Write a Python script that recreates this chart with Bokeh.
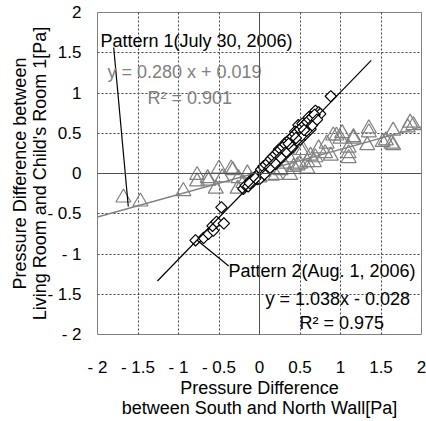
import math
from bokeh.plotting import figure
from bokeh.models import Range1d, FixedTicker, Span
from bokeh.core.properties import value
from bokeh.embed import file_html
from bokeh.resources import INLINE

# ---- data ----
ticks = [-2, -1.5, -1, -0.5, 0, 0.5, 1, 1.5, 2]
tick_labels = ["- 2", "- 1.5", "- 1", "- 0.5", "0", "0.5", "1", "1.5", "2"]
x_title = ["Pressure Difference", "between South and North Wall[Pa]"]
y_title = ["Pressure Difference between", "Living Room and Child's Room 1[Pa]"]

# Pattern 1 (July 30, 2006) - triangles
p1_x = [-1.68, -1.47, -0.94, -0.77, -0.77, -0.63, -0.54, -0.64, -0.50, -0.46,
        -0.35, -0.33, -0.26, -0.27, -0.15, -0.20, -0.10, 0.00, 0.05, 0.10,
        0.15, 0.20, 0.26, 0.30, 0.36, 0.38, 0.42, 0.47, 0.51, 0.50,
        0.54, 0.59, 0.59, 0.63, 0.67, 0.69, 0.73, 0.81, 0.83, 0.88,
        0.91, 0.95, 1.00, 1.02, 1.10, 1.10, 1.10, 1.16, 1.16, 1.33,
        1.35, 1.35, 1.52, 1.56, 1.63, 1.65, 1.65, 1.83, 1.86, 1.90]
p1_y = [-0.30, -0.35, -0.22, -0.02, -0.10, -0.09, -0.19, -0.06, 0.06, -0.05,
        0.06, 0.04, -0.06, -0.19, 0.00, -0.12, -0.08, -0.05, 0.02, 0.05,
        -0.03, -0.02, 0.04, 0.12, 0.20, -0.02, 0.08, 0.10, 0.29, 0.12,
        0.29, 0.06, 0.14, 0.22, 0.14, 0.20, 0.31, 0.25, 0.37, 0.22,
        0.47, 0.47, 0.43, 0.50, 0.32, 0.19, 0.25, 0.43, 0.45, 0.35,
        0.51, 0.56, 0.39, 0.41, 0.37, 0.53, 0.35, 0.57, 0.63, 0.60]

# Pattern 2 (Aug. 1, 2006) - diamonds
p2_x = [-0.79, -0.69, -0.63, -0.57, -0.58, -0.53, -0.44, -0.47, -0.20, -0.17,
        -0.14, -0.11, -0.08, -0.06, -0.03, -0.01, 0.01, 0.03, 0.04, 0.06,
        0.07, 0.09, 0.10, 0.12, 0.13, 0.15, 0.16, 0.18, 0.19, 0.21,
        0.22, 0.24, 0.25, 0.27, 0.28, 0.30, 0.31, 0.33, 0.34, 0.36,
        0.37, 0.39, 0.40, 0.42, 0.43, 0.45, 0.46, 0.48, 0.49, 0.51,
        0.52, 0.54, 0.55, 0.57, 0.58, 0.60, 0.62, 0.64, 0.66, 0.68,
        0.69, 0.71, 0.73, 0.75, 0.88, 0.12, 0.20, 0.28, 0.35, 0.41,
        0.50, 0.56, 0.63, 0.05, 0.16, 0.24, 0.32, 0.44, 0.53, 0.61,
        0.02, 0.05, 0.08, 0.11, 0.14, 0.17, 0.20, 0.23, 0.26, 0.29,
        0.32, 0.35, 0.38, 0.41, 0.44, 0.47, 0.50, 0.53, 0.56, 0.59,
        0.62, 0.65, 0.68, 0.00, 0.06, 0.13, 0.19, 0.26, 0.33, 0.39,
        0.46, 0.52, 0.58, 0.65, 0.71, -0.12, -0.05, 0.36, 0.45, 0.55]
p2_y = [-0.83, -0.80, -0.75, -0.71, -0.65, -0.60, -0.62, -0.42, -0.19, -0.15,
        -0.16, -0.09, -0.10, -0.05, -0.07, 0.00, -0.04, 0.04, 0.00, 0.07,
        0.03, 0.10, 0.05, 0.13, 0.08, 0.17, 0.11, 0.20, 0.14, 0.23,
        0.17, 0.26, 0.20, 0.29, 0.24, 0.32, 0.27, 0.36, 0.30, 0.39,
        0.33, 0.43, 0.36, 0.46, 0.40, 0.49, 0.43, 0.60, 0.46, 0.55,
        0.49, 0.58, 0.52, 0.62, 0.55, 0.65, 0.60, 0.68, 0.63, 0.71,
        0.78, 0.70, 0.76, 0.74, 0.96, 0.06, 0.12, 0.20, 0.27, 0.33,
        0.42, 0.48, 0.55, 0.09, 0.20, 0.30, 0.38, 0.52, 0.62, 0.70,
        0.05, 0.08, 0.11, 0.14, 0.18, 0.21, 0.24, 0.27, 0.30, 0.33,
        0.36, 0.40, 0.43, 0.46, 0.49, 0.52, 0.55, 0.58, 0.61, 0.64,
        0.67, 0.70, 0.73, -0.07, -0.01, 0.07, 0.13, 0.20, 0.27, 0.33,
        0.41, 0.47, 0.53, 0.60, 0.67, -0.12, -0.06, 0.37, 0.44, 0.54]

# regression fits
p1_slope, p1_icpt, p1_r2 = 0.280, 0.019, 0.901
p2_slope, p2_icpt, p2_r2 = 1.038, -0.028, 0.975
p1_fit_range = [-2.0, 2.0]
p2_fit_range = [-1.26, 1.38]

FONT = "Liberation Sans"
GRAY = "#808080"

p = figure(frame_width=324, frame_height=322, output_backend="svg",
           toolbar_location=None,
           x_range=Range1d(-2, 2), y_range=Range1d(-2, 2),
           min_border_left=97, min_border_right=5, min_border_top=12,
           min_border_bottom=87)
p.background_fill_color = "white"
p.border_fill_color = "white"
p.outline_line_color = GRAY
p.outline_line_width = 1

for ax in (p.xaxis[0], p.yaxis[0]):
    ax.ticker = FixedTicker(ticks=ticks)
    ax.major_label_overrides = {t: s for t, s in zip(ticks, tick_labels)}
    ax.axis_line_color = None
    ax.major_tick_line_color = None
    ax.minor_tick_line_color = None
    ax.major_label_text_font = FONT
    ax.major_label_text_font_size = "17px"
    ax.major_label_text_color = "black"
    ax.axis_label_text_font = FONT
    ax.axis_label_text_font_size = "18px"
    ax.axis_label_text_font_style = "normal"
    ax.axis_label_text_color = "black"
    ax.axis_label_text_line_height = 1.0

p.xaxis.axis_label = "\n".join(x_title)
p.xaxis.major_label_standoff = 17
p.xaxis.axis_label_standoff = -2
p.yaxis.axis_label = "\n".join(y_title)
p.yaxis.major_label_standoff = 10
p.yaxis.axis_label_standoff = -6

for g in (p.xgrid[0], p.ygrid[0]):
    g.ticker = FixedTicker(ticks=ticks)
    g.grid_line_color = "#404040"
    g.grid_line_dash = "2 2"
    g.grid_line_width = 1

p.add_layout(Span(location=0, dimension="width", line_color="#505050", line_width=1))
p.add_layout(Span(location=0, dimension="height", line_color="#505050", line_width=1))

# pattern 1 points and fit
p.scatter(p1_x, p1_y, marker="triangle", size=15, line_color=GRAY,
          line_width=1.2, fill_alpha=0)
p.line(p1_fit_range, [p1_slope * v + p1_icpt for v in p1_fit_range],
       line_color=GRAY, line_width=1.5)

# pattern 2 points and fit
p.scatter(p2_x, p2_y, marker="square", angle=math.pi / 4, size=8,
          line_color="black", line_width=1.2, fill_color="white")
p.line(p2_fit_range, [p2_slope * v + p2_icpt for v in p2_fit_range],
       line_color="black", line_width=1.2)

# leader lines
p.line([-1.80, -1.62], [1.565, -0.41], line_color="black", line_width=1.2)
p.line([-0.77, -0.38], [-0.83, -1.15], line_color="black", line_width=1.2)

# annotation texts
txt = dict(text_font=value(FONT), text_font_size="18px",
           text_baseline="middle", text_align="left")
p.text([-1.963], [1.64], text=["Pattern 1(July 30, 2006)"], text_color="black", **txt)
p.text([-1.877], [1.255], text=[f"y = {p1_slope:.3f} x + {p1_icpt:.3f}"], text_color=GRAY, **txt)
p.text([-1.383], [0.944], text=[f"R\u00b2 = {p1_r2:.3f}"], text_color=GRAY, **txt)
p.text([-0.383], [-1.217], text=["Pattern 2(Aug. 1, 2006)"], text_color="black", **txt)
p.text([0.074], [-1.553], text=[f"y = {p2_slope:.3f}x -  {abs(p2_icpt):.3f}"], text_color="black", **txt)
p.text([0.494], [-1.863], text=[f"R\u00b2 = {p2_r2:.3f}"], text_color="black", **txt)

open("out.html", "w").write(file_html(p, INLINE))
